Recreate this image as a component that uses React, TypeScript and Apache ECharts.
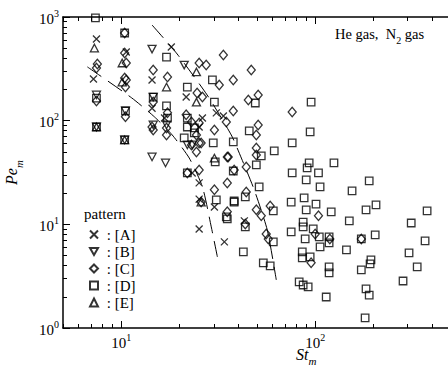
import React, { useEffect, useRef } from 'react';
import * as echarts from 'echarts';

const FONT = '"Liberation Serif", "Times New Roman", serif';

// Tick values (log axes)
const xMajorTicks = [10, 100, 1000];
const xMinorTicks = [5, 6, 7, 8, 9, 20, 30, 40, 50, 60, 70, 80, 90, 200, 300, 400, 500, 600, 700, 800, 900];
const xLabelTicks = [10, 100];
const yMajorTicks = [1, 10, 100, 1000];
const yMinorTicks = [2, 3, 4, 5, 6, 7, 8, 9, 20, 30, 40, 50, 60, 70, 80, 90, 200, 300, 400, 500, 600, 700, 800, 900];

const seriesNames = ['[A]', '[B]', '[C]', '[D]', '[E]'];

// [St_m, Pe_m]
const patternA: [number, number][] = [
  [7.44, 614], [7.18, 252], [10.6, 459], [14.4, 247], [14.4, 132], [18.1, 514], [16.7, 106],
  [21.6, 169], [26.2, 106], [30.9, 119], [33.6, 111], [25.2, 86.9], [23.2, 31.3], [25.2, 25.1],
  [25.2, 17.5], [30.2, 14.7], [25.2, 9.03], [34.0, 6.77], [43.1, 10.8],
];
const patternB: [number, number][] = [
  [7.44, 177], [7.44, 86.9], [10.5, 124], [10.4, 65.2], [14.4, 491], [14.6, 169], [14.6, 90.9],
  [14.4, 44.7], [16.9, 39.1], [21.1, 344], [17.1, 90.9], [21.9, 58.3], [23.2, 58.3],
];
const patternC: [number, number][] = [
  [7.52, 352], [7.44, 322], [7.44, 155], [10.4, 701], [10.4, 450], [10.6, 360], [10.4, 258],
  [10.5, 211], [10.5, 109], [10.6, 247], [14.6, 308], [14.6, 151], [14.6, 81.3], [17.3, 264],
  [17.3, 119], [17.1, 85.1], [17.1, 72.8], [14.4, 86.9], [25.2, 360], [27.4, 344], [24.6, 185],
  [26.2, 169], [32.0, 221], [33.6, 430], [46.8, 308], [37.8, 247], [45.2, 158], [50.8, 177],
  [37.8, 124], [76.1, 121], [50.8, 90.9], [49.7, 72.8], [49.7, 54.6], [49.7, 46.7], [35.6, 44.7],
  [44.1, 35.8], [21.6, 114], [23.0, 97.1], [24.4, 72.8], [25.2, 61.0], [25.2, 95.0], [23.0, 58.3],
  [34.8, 97.1], [30.2, 81.3], [25.8, 61.0], [24.4, 49.9], [35.2, 44.7], [38.2, 33.5], [21.9, 31.3],
  [25.2, 33.5], [30.2, 21.5], [35.2, 25.1], [44.1, 20.5], [25.8, 16.4], [35.2, 13.2], [49.7, 13.8],
  [52.7, 12.1], [58.6, 15.0], [43.6, 10.1], [55.9, 8.08], [57.3, 7.23], [104, 12.1], [100, 8.08],
  [119, 7.23], [95.3, 4.25], [173, 7.23],
];
const patternD: [number, number][] = [
  [7.35, 980], [7.44, 165], [7.44, 86.9], [10.4, 701], [10.5, 124], [10.4, 65.2], [17.1, 411],
  [17.1, 139], [17.3, 106], [14.6, 169], [21.9, 211], [29.5, 247], [30.2, 151], [21.9, 106],
  [23.8, 85.1], [21.9, 86.9], [21.1, 68.1], [29.8, 61.0], [30.5, 40.0], [21.9, 31.3], [23.8, 76.1],
  [49.1, 148], [95.3, 151], [45.7, 79.6], [94.2, 77.8], [76.1, 61.0], [37.8, 62.3], [52.7, 45.7],
  [61.5, 51.1], [49.7, 37.4], [93.1, 39.1], [90.9, 35.0], [104, 31.3], [125, 39.1], [37.8, 32.7],
  [76.1, 31.3], [89.9, 26.8], [190, 26.2], [38.2, 16.8], [43.6, 18.4], [51.4, 23.0], [106, 23.0],
  [155, 21.0], [75.2, 16.4], [87.7, 18.0], [89.9, 13.8], [101, 15.7], [121, 13.2], [183, 13.8],
  [206, 15.4], [378, 13.5], [60.8, 13.5], [43.6, 9.45], [86.7, 10.5], [86.7, 9.45], [97.7, 9.03],
  [75.2, 8.45], [105, 7.56], [88.8, 7.23], [150, 10.8], [60.8, 6.77], [118, 7.56], [118, 6.62],
  [106, 6.06], [42.6, 5.42], [204, 7.90], [173, 7.23], [313, 10.3], [369, 6.92], [145, 5.66],
  [85.8, 5.42], [85.8, 4.74], [94.2, 4.85], [305, 5.30], [194, 4.54], [192, 4.15], [54.0, 4.25],
  [58.6, 3.97], [118, 3.88], [118, 3.40], [173, 3.63], [336, 3.88], [284, 2.84], [82.7, 2.78],
  [86.7, 2.60], [92.0, 2.49], [183, 2.38], [190, 2.08], [114, 1.99], [181, 1.25], [35.2, 11.3],
  [38.2, 16.4], [30.9, 17.2], [34.8, 11.8],
];
const patternE: [number, number][] = [
  [7.26, 502], [10.1, 360], [10.1, 236], [17.1, 211], [24.4, 151], [30.2, 43.6], [25.8, 16.4],
  [24.4, 295], [7.44, 86.9], [10.4, 65.2],
];

const dashLine1: [number, number][] = [
  [6.68, 330], [11.3, 166], [14.8, 109], [18.3, 72.8], [22.4, 43.6], [26.2, 23.0], [29.1, 9.45], [31.3, 4.85],
];
const dashLine2: [number, number][] = [
  [14.4, 837], [19.4, 440], [27.7, 177], [36.9, 72.8], [41.6, 43.6], [48.5, 21.5], [56.6, 8.83], [63.0, 2.91],
];

const supRich = {
  b: { fontSize: 15, fontFamily: FONT, color: '#000', verticalAlign: 'bottom', lineHeight: 18 },
  s: { fontSize: 10, fontFamily: FONT, color: '#000', verticalAlign: 'top', lineHeight: 14 },
};
const powLabel = (v: number) => `{b|10}{s|${Math.round(Math.log10(v))}}`;

const titleRich = {
  i: { fontSize: 16, fontFamily: FONT, fontStyle: 'italic', color: '#000', verticalAlign: 'top', lineHeight: 18 },
  s: { fontSize: 11, fontFamily: FONT, fontStyle: 'italic', color: '#000', verticalAlign: 'bottom', lineHeight: 12, padding: [0, 0, -3, 0] },
};

function makeAxis(position: string, min: number, max: number, ticks: number[], len: number, showLine: boolean, labels: number[] | null, extra: any = {}) {
  return {
    type: 'log',
    logBase: 10,
    position,
    min,
    max,
    splitLine: { show: false },
    minorTick: { show: false },
    axisLine: { show: showLine, onZero: false, lineStyle: { color: '#000', width: 1.5 } },
    axisTick: { show: true, inside: true, length: len, customValues: ticks, lineStyle: { color: '#000', width: 1 } },
    axisLabel: labels
      ? { show: true, customValues: labels, formatter: powLabel, rich: supRich, margin: 4, hideOverlap: false }
      : { show: false },
    ...extra,
  };
}

const hollow = { color: 'rgba(0,0,0,0)', borderColor: '#000', borderWidth: 1.3 };

export default function App() {
  const ref = useRef<HTMLDivElement>(null);
  useEffect(() => {
    if (!ref.current) return;
    const chart = echarts.init(ref.current, null, { renderer: 'svg' });
    const scatter = (name: string, data: [number, number][], symbol: string, size: any) => ({
      name,
      type: 'scatter',
      data,
      symbol,
      symbolSize: size,
      xAxisIndex: 0,
      yAxisIndex: 0,
      itemStyle: hollow,
      emphasis: { disabled: true },
    });
    const dash = (data: [number, number][]) => ({
      type: 'line',
      data,
      xAxisIndex: 0,
      yAxisIndex: 0,
      symbol: 'none',
      smooth: 0.2,
      lineStyle: { color: '#000', width: 1, type: [17, 8] },
      emphasis: { disabled: true },
    });
    chart.setOption({
      animation: false,
      backgroundColor: '#fff',
      textStyle: { fontFamily: FONT },
      grid: { left: 63, top: 17, width: 446, height: 311, containLabel: false, outerBoundsMode: 'none' },
      xAxis: [
        makeAxis('bottom', 5, 1000, xMajorTicks, 7, true, xLabelTicks),
        makeAxis('bottom', 5, 1000, xMinorTicks, 4, false, null),
        makeAxis('top', 5, 1000, xMajorTicks, 7, true, null),
        makeAxis('top', 5, 1000, xMinorTicks, 4, false, null),
      ],
      yAxis: [
        makeAxis('left', 1, 1000, yMajorTicks, 7, true, yMajorTicks, {
          name: '{i|Pe}{s|m}',
          nameLocation: 'middle',
          nameGap: 42,
          nameRotate: 90,
          nameTextStyle: { rich: titleRich },
        }),
        makeAxis('left', 1, 1000, yMinorTicks, 4, false, null),
      ],
      legend: {
        data: seriesNames,
        orient: 'vertical',
        left: 84,
        top: 221,
        itemWidth: 8,
        itemHeight: 8,
        itemGap: 0,
        selectedMode: false,
        formatter: (n: string) => ' : ' + n,
        textStyle: { fontFamily: FONT, fontSize: 15, color: '#000', lineHeight: 17 },
      },
      graphic: [
        { type: 'text', left: 84, top: 206, style: { text: 'pattern', font: `15px ${FONT}`, fill: '#000' } },
        {
          type: 'text',
          left: 335,
          top: 26,
          style: {
            text: '{t|He gas,  N}{s|2}{t| gas}',
            rich: {
              t: { fontSize: 14.5, fontFamily: FONT, fill: '#000', verticalAlign: 'top', lineHeight: 16 },
              s: { fontSize: 10, fontFamily: FONT, fill: '#000', verticalAlign: 'bottom', lineHeight: 10, padding: [0, 0, -3, 0] },
            },
          },
        },
        {
          type: 'text',
          left: 296,
          top: 346,
          style: {
            text: '{i|St}{s|m}',
            rich: {
              i: { fontSize: 16, fontFamily: FONT, fontStyle: 'italic', fill: '#000', verticalAlign: 'top', lineHeight: 18 },
              s: { fontSize: 11, fontFamily: FONT, fontStyle: 'italic', fill: '#000', verticalAlign: 'bottom', lineHeight: 12, padding: [0, 0, -2, 0] },
            },
          },
        },
      ],
      series: [
        scatter('[A]', patternA, 'path://M0,0L10,10M10,0L0,10', 7),
        scatter('[B]', patternB, 'path://M0,0L10,0L5,8.7Z', [8, 7.5]),
        scatter('[C]', patternC, 'diamond', [8, 9.5]),
        scatter('[D]', patternD, 'rect', 7.5),
        scatter('[E]', patternE, 'triangle', [8, 7.5]),
        dash(dashLine1),
        dash(dashLine2),
      ],
    });
    return () => chart.dispose();
  }, []);
  return <div ref={ref} style={{ position: 'fixed', left: 0, top: 0, width: 448, height: 367, background: '#fff' }} />;
}
